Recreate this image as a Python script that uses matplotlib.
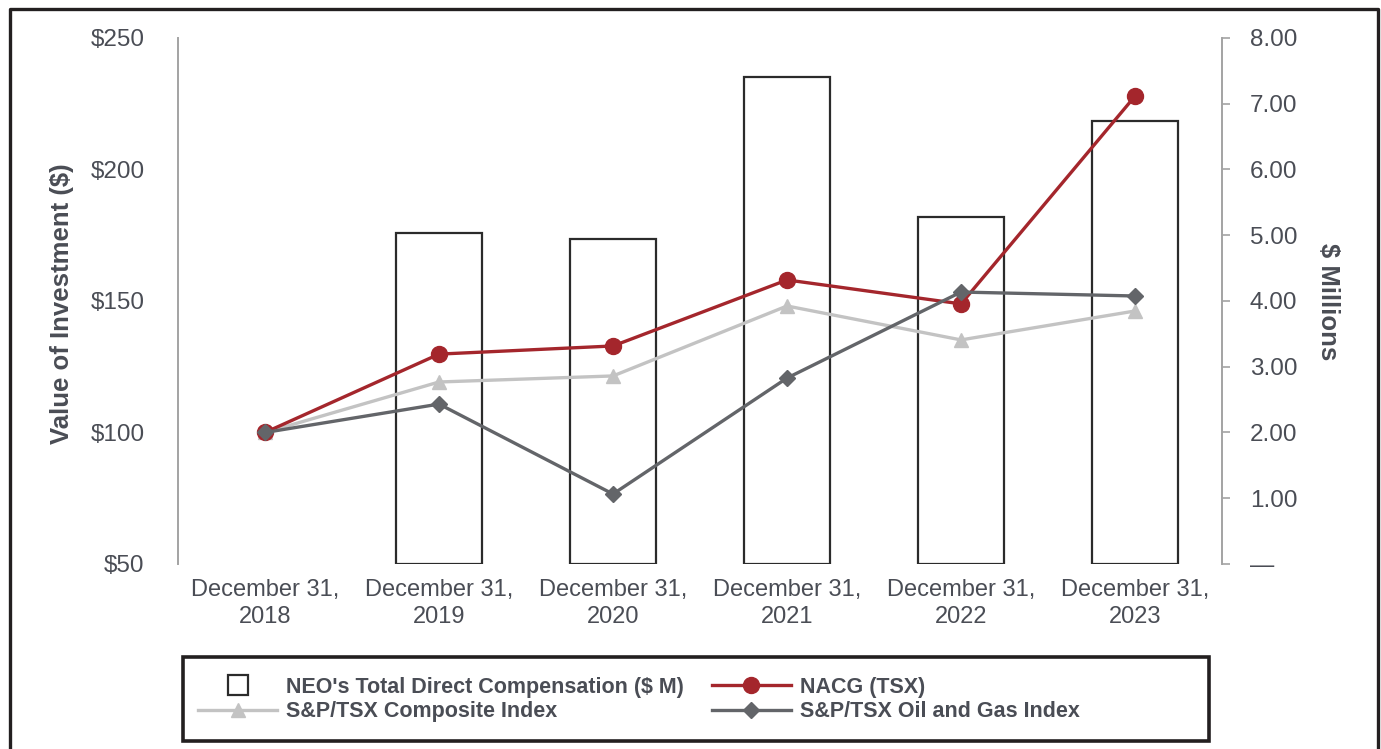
import numpy as np
import matplotlib
matplotlib.use('Agg')
import matplotlib.pyplot as plt
from matplotlib.lines import Line2D
from matplotlib.patches import Rectangle

plt.rcParams['font.family'] = ['Liberation Sans', 'DejaVu Sans']

# data
categories = ['December 31,\n2018', 'December 31,\n2019', 'December 31,\n2020',
              'December 31,\n2021', 'December 31,\n2022', 'December 31,\n2023']
neo_comp = [None, 5.03, 4.94, 7.41, 5.28, 6.74]     # $ millions (right axis), no bar for 2018
nacg = [100, 129.8, 132.9, 158.0, 148.9, 227.9]
composite = [100, 119.2, 121.5, 148.1, 135.2, 146.2]
oil_gas = [100, 110.8, 76.6, 120.7, 153.4, 151.9]

left_ticks = [50, 100, 150, 200, 250]
left_labels = ['$50', '$100', '$150', '$200', '$250']
right_ticks = [0, 1, 2, 3, 4, 5, 6, 7, 8]
right_labels = ['—', '1.00', '2.00', '3.00', '4.00', '5.00', '6.00', '7.00', '8.00']

txt = '#4a4d55'
spine = '#a3a3a3'
frame = '#231f20'
red = '#a4262c'
light = '#c3c3c3'
dark = '#636569'

fig = plt.figure(figsize=(13.81, 7.49), dpi=100)
ax = fig.add_axes([0.1289, 0.2470, 0.756, 0.7023])
ax2 = ax.twinx()

x = np.arange(len(categories))

# bars on the right axis
bx = [i for i, v in zip(x, neo_comp) if v is not None]
bv = [v for v in neo_comp if v is not None]
ax2.bar(bx, bv, width=0.49, facecolor='white', edgecolor='#2b2b2b', linewidth=1.6)
ax2.set_ylim(0, 8)
ax2.set_yticks(right_ticks)
ax2.set_yticklabels(right_labels)
ax2.tick_params(axis='y', length=6, width=1.2, color=spine, pad=14,
                labelsize=17.5, labelcolor=txt)
for s in ['top', 'bottom', 'left']:
    ax2.spines[s].set_visible(False)
ax2.spines['right'].set_color(spine)
ax2.spines['right'].set_linewidth(1.4)

# lines on the left axis, above the bars
ax.set_zorder(ax2.get_zorder() + 1)
ax.patch.set_visible(False)
ax.plot(x, composite, color=light, lw=2.4, marker='^', ms=10, label='S&P/TSX Composite Index')
ax.plot(x, nacg, color=red, lw=2.4, marker='o', ms=11.5, label='NACG (TSX)')
ax.plot(x, oil_gas, color=dark, lw=2.4, marker='D', ms=8.5, label='S&P/TSX Oil and Gas Index')

ax.set_xlim(-0.5, 5.5)
ax.set_ylim(50, 250)
ax.set_yticks(left_ticks)
ax.set_yticklabels(left_labels)
ax.set_xticks(x)
ax.set_xticklabels(categories, linespacing=1.3)
ax.tick_params(axis='y', length=0, pad=24, labelsize=17.5, labelcolor=txt)
ax.tick_params(axis='x', length=0, pad=11, labelsize=17, labelcolor=txt)
for s in ['top', 'bottom', 'right']:
    ax.spines[s].set_visible(False)
ax.spines['left'].set_color(spine)
ax.spines['left'].set_linewidth(1.4)

fig.text(0.0449, 0.594, 'Value of Investment ($)', rotation=90, ha='center', va='center',
         fontsize=18.5, fontweight='bold', color=txt)
fig.text(0.9616, 0.5975, '$ Millions', rotation=270, ha='center', va='center',
         fontsize=18.5, fontweight='bold', color=txt)

# legend
h_bar = Line2D([], [], ls='none', marker='s', ms=15, mfc='white', mec='#2b2b2b', mew=1.6)
h_comp, h_nacg, h_oil = ax.get_lines()
leg = fig.legend([h_bar, h_comp, h_nacg, h_oil],
                 ["NEO's Total Direct Compensation ($ M)", 'S&P/TSX Composite Index',
                  'NACG (TSX)', 'S&P/TSX Oil and Gas Index'],
                 ncol=2, loc='upper left', bbox_to_anchor=(198 / 1381, 1 - 677 / 749),
                 frameon=False, borderpad=0, borderaxespad=0, handlelength=3.67,
                 handletextpad=0.42, columnspacing=1.3, labelspacing=0.15,
                 prop={'size': 15.5, 'weight': 'bold'})
for t in leg.get_texts():
    t.set_color(txt)

W, H = 1381, 749
fig.add_artist(Rectangle((183 / W, 1 - 741 / H), (1209 - 183) / W, (741 - 657) / H,
                         transform=fig.transFigure, fill=False, edgecolor=frame, lw=2.6))

# outer frame (open at bottom)
fig.add_artist(Line2D([10 / W, 10 / W, 1378 / W, 1378 / W], [0, 1 - 9 / H, 1 - 9 / H, 0],
                      transform=fig.transFigure, color=frame, lw=2.4))

fig.savefig('out.png', dpi=100)
